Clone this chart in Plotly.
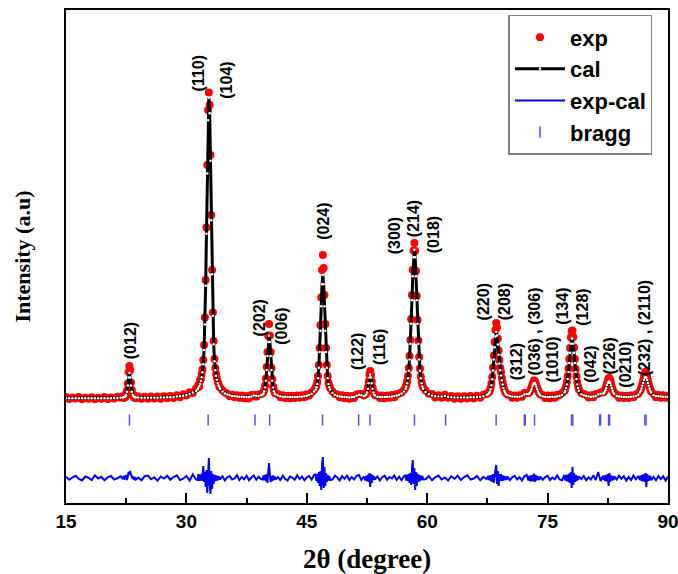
import plotly.graph_objects as go

# ---------------- data ----------------
two_theta = [
    15.0, 15.4, 15.8, 16.2, 16.6, 17.0, 17.4, 17.8, 18.2, 18.6, 19.0, 19.4, 19.8, 20.2, 20.6, 21.0, 21.4, 21.8,
    22.1, 22.2, 22.3, 22.4, 22.5, 22.6, 22.7, 22.8, 22.9, 23.0, 23.1, 23.2, 23.3, 23.4, 23.5, 23.6, 23.7,
    24.0, 24.4, 24.8, 25.2, 25.6, 26.0, 26.4, 26.8, 27.2, 27.6, 28.0, 28.4, 28.8, 29.2, 29.6, 30.0, 30.4, 30.8, 31.2,
    31.4, 31.5, 31.6, 31.7, 31.8, 31.9, 32.0, 32.1, 32.2, 32.3, 32.4, 32.5, 32.6, 32.7, 32.8, 32.9, 33.0, 33.1, 33.2, 33.3, 33.4, 33.5, 33.6, 33.7, 33.8, 33.9, 34.0, 34.1, 34.2,
    34.5, 34.8, 35.1, 35.4, 35.7, 36.0, 36.3, 36.6, 36.9, 37.2, 37.5, 37.8, 38.1, 38.4, 38.7, 39.0, 39.3,
    39.5, 39.6, 39.7, 39.8, 39.9, 40.0, 40.1, 40.2, 40.3, 40.4, 40.5, 40.6, 40.7, 40.8, 40.9, 41.0, 41.1,
    41.4, 41.7, 42.0, 42.3, 42.6, 42.9, 43.2, 43.5, 43.8, 44.1, 44.4, 44.7, 45.0, 45.3, 45.6, 45.9,
    46.1, 46.2, 46.3, 46.4, 46.5, 46.6, 46.7, 46.8, 46.9, 47.0, 47.1, 47.2, 47.3, 47.4, 47.5, 47.6, 47.7, 47.8, 47.9,
    48.2, 48.5, 48.8, 49.1, 49.4, 49.7, 50.0, 50.3, 50.6, 50.9, 51.2, 51.5, 51.8, 52.1,
    52.3, 52.4, 52.5, 52.6, 52.7, 52.8, 52.9, 53.0, 53.1, 53.2, 53.3, 53.4, 53.5,
    53.8, 54.1, 54.4, 54.7, 55.0, 55.3, 55.6, 55.9, 56.2, 56.5, 56.8, 57.1,
    57.3, 57.4, 57.5, 57.6, 57.7, 57.8, 57.9, 58.0, 58.1, 58.2, 58.3, 58.4, 58.5, 58.6, 58.7, 58.8, 58.9, 59.0, 59.1, 59.2, 59.3, 59.4, 59.5,
    59.8, 60.2, 60.6, 61.0, 61.4, 61.8, 62.2, 62.6, 63.0, 63.4, 63.8, 64.2, 64.6, 65.0, 65.4, 65.8, 66.2, 66.6, 67.0, 67.4,
    67.6, 67.7, 67.8, 67.9, 68.0, 68.1, 68.2, 68.3, 68.4, 68.5, 68.6, 68.7, 68.8, 68.9, 69.0, 69.1, 69.2, 69.3, 69.4, 69.5, 69.6, 69.7, 69.8, 69.9, 70.0,
    70.3, 70.6, 70.9, 71.2, 71.5, 71.8, 72.1, 72.4,
    72.6, 72.7, 72.8, 72.9, 73.0, 73.1, 73.2, 73.3, 73.4, 73.5, 73.6, 73.7, 73.8, 73.9, 74.0, 74.1,
    74.4, 74.7, 75.0, 75.3, 75.6, 75.9, 76.2, 76.5, 76.8, 77.1,
    77.2, 77.3, 77.4, 77.5, 77.6, 77.7, 77.8, 77.9, 78.0, 78.1, 78.2, 78.3, 78.4, 78.5, 78.6, 78.7, 78.8, 78.9,
    79.2, 79.5, 79.8, 80.1, 80.4, 80.7, 81.0, 81.3, 81.6, 81.9,
    82.0, 82.1, 82.2, 82.3, 82.4, 82.5, 82.6, 82.7, 82.8, 82.9, 83.0, 83.1, 83.2, 83.3,
    83.6, 83.9, 84.2, 84.5, 84.8, 85.1, 85.4, 85.7, 86.0, 86.3,
    86.5, 86.6, 86.7, 86.8, 86.9, 87.0, 87.1, 87.2, 87.3, 87.4, 87.5, 87.6, 87.7, 87.8, 87.9,
    88.2, 88.5, 88.8, 89.1, 89.4, 89.7, 90.0,
]

y_exp = [
    62, 18, 48, 30, 58, 14, 44, 26, 55, 16, 46, 24, 60, 20, 52, 28, 64, 48,
    72, 38, 88, 60, 130, 190, 330, 560, 680, 600, 350, 200, 90, 98, 44, 78, 36,
    68, 26, 64, 24, 68, 30, 72, 26, 74, 36, 80, 42, 95, 56, 115, 88, 155, 138, 228,
    250, 300, 270, 390, 420, 520, 610, 800, 1100, 1650, 2400, 3450, 4700, 5800, 6150, 5900, 4900, 3700, 2600, 1750, 1180, 820, 640, 520, 440, 360, 330, 270, 250,
    195, 148, 124, 76, 104, 56, 94, 44, 88, 36, 82, 30, 98, 105, 66, 112, 122,
    135, 160, 200, 290, 430, 660, 960, 1280, 1520, 1290, 960, 640, 420, 270, 200, 150, 135,
    114, 56, 94, 40, 84, 36, 86, 40, 88, 46, 96, 56, 114, 88, 152, 200,
    245, 290, 360, 480, 700, 1040, 1500, 2050, 2600, 2900, 2640, 2100, 1520, 1040, 700, 480, 350, 290, 240,
    172, 118, 112, 56, 94, 36, 84, 26, 78, 40, 112, 122, 120, 88,
    110, 125, 175, 250, 370, 510, 580, 500, 370, 250, 170, 130, 100,
    94, 40, 88, 36, 88, 46, 98, 56, 118, 128, 152, 200,
    255, 300, 370, 480, 640, 880, 1200, 1620, 2100, 2600, 2990, 3140, 2980, 2580, 2080, 1600, 1190, 860, 630, 470, 360, 300, 250,
    192, 126, 118, 50, 94, 46, 104, 46, 78, 26, 76, 24, 74, 28, 78, 32, 84, 46, 104, 120,
    140, 160, 190, 240, 330, 460, 650, 890, 1160, 1400, 1540, 1450, 1230, 990, 800, 640, 560, 440, 350, 270, 210, 170, 140, 125, 110,
    104, 46, 92, 44, 96, 66, 138, 140,
    140, 150, 170, 205, 250, 300, 345, 390, 380, 345, 295, 245, 195, 160, 130, 110,
    98, 42, 90, 36, 92, 46, 104, 102, 142, 180,
    220, 280, 360, 480, 630, 820, 1040, 1250, 1380, 1390, 1260, 1050, 820, 620, 470, 350, 270, 215,
    142, 118, 98, 50, 94, 56, 114, 125, 150, 150,
    160, 185, 225, 275, 330, 390, 430, 440, 395, 330, 265, 210, 170, 140,
    104, 46, 90, 42, 86, 42, 92, 56, 108, 125,
    175, 210, 260, 320, 390, 460, 530, 570, 540, 470, 390, 320, 260, 210, 170,
    118, 56, 98, 46, 94, 44, 88,
]

y_cal = [
    36, 36, 35, 35, 35, 34, 34, 34, 34, 34, 34, 35, 35, 36, 37, 38, 40, 45,
    51, 56, 63, 75, 103, 167, 289, 450, 540, 450, 289, 167, 103, 75, 63, 56, 51,
    50, 45, 44, 44, 45, 46, 47, 49, 51, 54, 57, 62, 68, 76, 87, 102, 122, 150, 185,
    217, 247, 282, 327, 387, 457, 557, 717, 1001, 1512, 2283, 3325, 4528, 5596, 6047, 5737, 4787, 3597, 2517, 1687, 1117, 777, 597, 487, 407, 342, 297, 259, 227,
    168, 132, 109, 93, 82, 75, 69, 65, 63, 61, 59, 59, 69, 89, 87, 81, 95,
    110, 132, 173, 250, 385, 599, 880, 1160, 1287, 1160, 880, 599, 385, 250, 173, 132, 110,
    88, 75, 67, 63, 60, 59, 59, 60, 61, 64, 67, 73, 83, 98, 124, 172,
    212, 253, 318, 434, 643, 959, 1385, 1877, 2314, 2500, 2314, 1877, 1385, 959, 643, 434, 318, 253, 212,
    144, 105, 84, 71, 63, 58, 55, 52, 54, 60, 86, 104, 94, 77,
    89, 109, 152, 225, 334, 450, 506, 450, 334, 225, 152, 106, 88,
    67, 62, 61, 61, 63, 67, 72, 78, 89, 106, 130, 171,
    225, 269, 334, 434, 587, 811, 1124, 1525, 1994, 2473, 2855, 3005, 2855, 2473, 1994, 1525, 1124, 811, 587, 434, 334, 269, 225,
    162, 114, 90, 76, 68, 70, 78, 67, 54, 52, 52, 51, 51, 52, 53, 55, 59, 65, 77, 101,
    117, 137, 166, 215, 295, 416, 590, 812, 1056, 1268, 1360, 1292, 1112, 907, 730, 594, 488, 395, 311, 240, 185, 148, 122, 107, 94,
    78, 68, 63, 65, 67, 84, 111, 120,
    115, 125, 146, 179, 222, 269, 311, 341, 339, 308, 265, 217, 172, 136, 109, 90,
    71, 64, 61, 61, 63, 67, 73, 85, 106, 150,
    187, 239, 312, 419, 562, 741, 944, 1123, 1228, 1228, 1123, 944, 741, 562, 419, 312, 239, 187,
    117, 93, 79, 72, 67, 71, 82, 109, 124, 131,
    136, 161, 197, 242, 294, 341, 368, 366, 338, 288, 234, 186, 147, 118,
    81, 69, 63, 61, 61, 62, 64, 69, 79, 104,
    148, 184, 229, 283, 342, 400, 443, 460, 443, 400, 342, 283, 229, 184, 148,
    93, 80, 73, 68, 66, 65, 64,
]

y_diff = [
    25, -35, 10, 45, -20, -50, 30, 5, -40, 55, -10, 25, -45, 15, 40, -30, -5, 35,
    -20, 45, -30, 20, 60, -40, 80, 120, 100, 140, 60, 40, -20, 30, -40, 20, -30,
    10, -45, 35, 50, -25, 15, -55, 30, -10, 45, -35, 20, 55, -40, -15, 40, -50, 70, -30,
    -40, 80, -60, 70, -50, 90, -60, 240, -80, 120, -180, 160, -300, 220, 400, -120, -320, 140, -220, 80, -120, 60, -60, 50, -50, 40, -40, 30, -30,
    35, -50, 15, 40, -30, -10, 55, -40, 20, -25, 45, -45, 10, 50, -35, 25, -20,
    -30, 50, -40, 60, -60, 80, -100, 120, 300, 60, -80, 40, -60, 50, -40, 30, -30,
    20, -40, 45, -15, -50, 30, 10, -35, 55, -20, 30, -45, 15, 40, -30, 60,
    70, -60, 80, -100, 120, -160, 140, -240, 260, 420, -200, 220, -160, 100, -80, 60, -50, 40, -40,
    -30, 45, 10, -50, 35, -15, 50, -40, 20, -30, 45, 60, -40, 30,
    -50, 40, -60, 60, -80, 100, -180, 80, -100, 60, -40, 30, -30,
    30, -50, 15, 45, -35, 20, -10, 50, -40, 25, -45, 35,
    50, -50, 70, -60, 80, -100, 100, -140, 160, 360, -120, 200, -240, 120, -160, 90, -80, 60, -60, 50, -40, 40, -30,
    -25, 40, -45, 15, 50, -30, 10, -50, 35, -15, 45, -40, 20, 55, -30, -10, 40, -45, 25, -20,
    40, -40, 50, -60, 60, -80, 80, -100, 120, 160, 260, -120, 140, -160, 80, -60, 80, -60, 50, -50, 40, -40, 30, -40, 30,
    -40, 15, 45, -30, 20, -50, 35, 60,
    -50, 40, -60, 50, -70, 60, -60, 90, -80, 60, -50, 40, -40, 30, -40, 30,
    -35, 20, 45, -40, 10, -25, 50, -30, -45, 60,
    -50, 60, -60, 70, -80, 90, -100, 120, -200, 220, -140, 100, -80, 60, -60, 40, -40, 30,
    -20, 40, -45, 15, -30, 50, -40, 120, -60, 40,
    -40, 50, -60, 60, -70, 80, -160, 100, -80, 50, -50, 40, -40, 30,
    -30, 45, -15, 35, -50, 20, -40, 50, -25, 40,
    -40, 50, -60, 60, -70, 80, -80, 100, -180, 80, -60, 50, -50, 40, -40,
    20, -45, 40, -20, 35, -50, 30,
]

bragg_pos = [22.91, 32.71, 38.54, 40.37, 46.96, 51.46, 52.87, 58.41, 62.29, 68.59,
             72.10, 72.22, 73.37, 77.98, 78.14, 81.48, 81.60, 82.60, 82.72, 87.12, 87.26]

hkl_labels = ["(012)", "(110)", "(104)", "(202)", "(006)", "(024)", "(122)", "(116)",
              "(300)", "(214)", "(018)", "(220)", "(208)", "(312)", "(036) , (306)",
              "(1010)", "(134)", "(128)", "(042)", "(226)", "(0210)", "(232) , (2110)"]
hkl_x = [23.0, 31.5, 34.9, 39.1, 41.75, 47.0, 51.25, 54.0,
         55.9, 58.25, 60.75, 67.0, 69.6, 71.1, 73.25,
         75.5, 76.75, 79.25, 80.25, 82.6, 84.6, 87.0]
hkl_y = [1180, 6540, 6400, 1640, 1480, 3580, 980, 1060,
         3280, 3620, 3300, 1960, 1960, 760, 1360,
         800, 1880, 1860, 720, 880, 700, 1440]

assert len(two_theta) == len(y_exp) == len(y_cal) == len(y_diff), (len(two_theta), len(y_exp), len(y_cal), len(y_diff))

# ---------------- layout constants ----------------
DIFF_OFFSET = -1560
BRAGG_LEVEL = -400
SANS = "Liberation Sans"
SERIF = "Liberation Serif"

fig = go.Figure()
fig.add_trace(go.Scatter(x=two_theta, y=y_exp, mode="markers", name="exp",
                         marker=dict(color="#ff0000", size=8, line=dict(width=0))))
fig.add_trace(go.Scatter(x=two_theta, y=y_cal, mode="lines+markers", name="cal",
                         line=dict(color="black", width=3),
                         marker=dict(color="white", size=2.5, line=dict(width=0))))
fig.add_trace(go.Scatter(x=two_theta, y=[v + DIFF_OFFSET for v in y_diff], mode="lines",
                         name="exp-cal", line=dict(color="#0000ff", width=2)))
fig.add_trace(go.Scatter(x=bragg_pos, y=[BRAGG_LEVEL] * len(bragg_pos), mode="markers",
                         name="bragg",
                         marker=dict(symbol="line-ns", size=8, color="#5050ee",
                                     line=dict(width=1.5, color="#5050ee"))))

annotations = []
for lab, lx, ly in zip(hkl_labels, hkl_x, hkl_y):
    annotations.append(dict(x=lx, y=ly, xref="x", yref="y", text=lab, showarrow=False,
                            textangle=-90, xanchor="center", yanchor="middle",
                            font=dict(family=SANS, size=16, color="black", weight="bold")))
annotations.append(dict(x=0.5, y=-0.113, xref="paper", yref="paper", text="2θ (degree)",
                        showarrow=False, xanchor="center", yanchor="middle",
                        font=dict(family=SERIF, size=27, color="black", weight="bold")))
annotations.append(dict(x=-0.073, y=0.5, xref="paper", yref="paper", text="Intensity (a.u)",
                        showarrow=False, textangle=-90, xanchor="center", yanchor="middle",
                        font=dict(family=SERIF, size=22, color="black", weight="bold")))

fig.update_layout(
    width=678, height=574,
    margin=dict(l=66, r=10, t=10, b=71, autoexpand=False),
    paper_bgcolor="white", plot_bgcolor="white",
    showlegend=True,
    legend=dict(x=0.735, y=0.99, xanchor="left", yanchor="top",
                bgcolor="white", bordercolor="#808080", borderwidth=1.5,
                font=dict(family=SANS, size=22, color="black", weight="bold"),
                itemwidth=50, tracegroupgap=0),
    annotations=annotations,
    xaxis=dict(range=[15, 90], tickvals=[15, 30, 45, 60, 75, 90], automargin=False,
               ticklabeloverflow="allow",
               ticks="inside", ticklen=10, tickwidth=1.5, tickcolor="black",
               minor=dict(ticks="inside", ticklen=5, tickwidth=1.5, tickcolor="black",
                          tickvals=[22.5, 37.5, 52.5, 67.5, 82.5]),
               showline=True, linecolor="black", linewidth=2, mirror=True,
               showgrid=False, zeroline=False,
               tickfont=dict(family=SANS, size=19, color="black", weight="bold")),
    yaxis=dict(range=[-2060, 7800], showticklabels=False, ticks="", automargin=False,
               showline=True, linecolor="black", linewidth=2, mirror=True,
               showgrid=False, zeroline=False),
)

fig.write_html("out.html", config={"displayModeBar": False},
               post_script="document.body.style.margin='0';document.body.style.overflow='hidden';")
